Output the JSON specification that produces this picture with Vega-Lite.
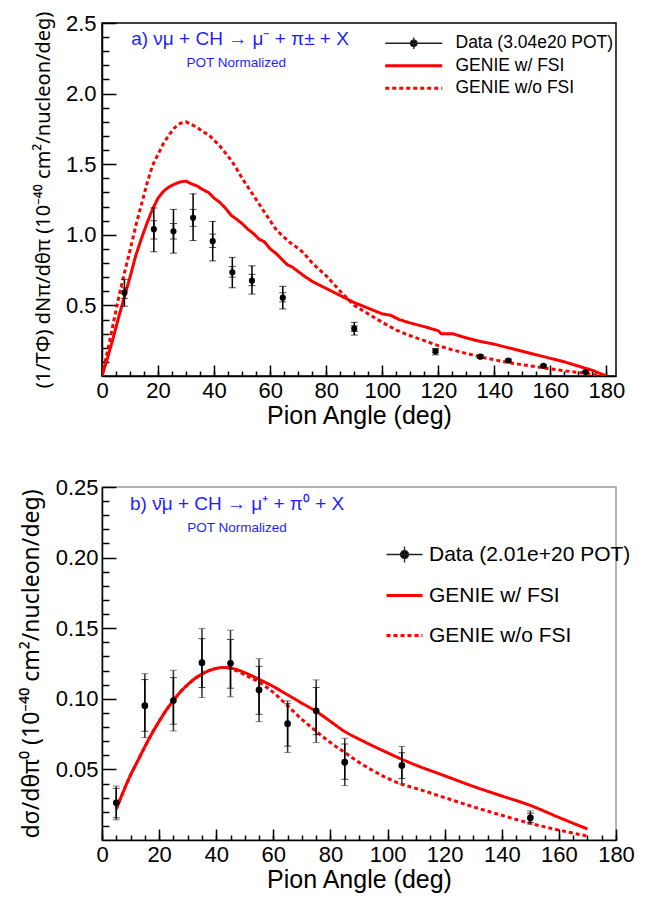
{
  "$schema": "https://vega.github.io/schema/vega-lite/v6.json",
  "background": "white",
  "padding": {"left": 19, "top": 10, "right": 5, "bottom": 5},
  "config": {
    "font": "Liberation Sans",
    "view": {"stroke": "black", "strokeWidth": 1.5},
    "axis": {
      "labelFont": "Liberation Sans", "titleFont": "Liberation Sans",
      "labelColor": "black", "titleColor": "black", "titleFontWeight": "normal",
      "domainColor": "black", "tickColor": "black", "domainWidth": 1.5, "tickWidth": 1.5,
      "grid": false, "labelFlush": false, "labelOverlap": false
    },
    "legend": {"labelFont": "Liberation Sans", "labelColor": "black", "labelLimit": 400}
  },
  "spacing": 46,
  "resolve": {
    "scale": {"x": "independent", "y": "independent", "color": "independent", "strokeDash": "independent"},
    "legend": {"color": "independent", "strokeDash": "independent"}
  },
  "datasets": {
    "curvesA": [
      {"series": "GENIE w/ FSI", "angle": 0, "value": 0.0},
      {"series": "GENIE w/ FSI", "angle": 2, "value": 0.13},
      {"series": "GENIE w/ FSI", "angle": 4, "value": 0.27},
      {"series": "GENIE w/ FSI", "angle": 6, "value": 0.42},
      {"series": "GENIE w/ FSI", "angle": 8, "value": 0.56},
      {"series": "GENIE w/ FSI", "angle": 10, "value": 0.70},
      {"series": "GENIE w/ FSI", "angle": 12, "value": 0.85},
      {"series": "GENIE w/ FSI", "angle": 14, "value": 0.97},
      {"series": "GENIE w/ FSI", "angle": 16, "value": 1.08},
      {"series": "GENIE w/ FSI", "angle": 18, "value": 1.18},
      {"series": "GENIE w/ FSI", "angle": 20, "value": 1.26},
      {"series": "GENIE w/ FSI", "angle": 22, "value": 1.31},
      {"series": "GENIE w/ FSI", "angle": 24, "value": 1.34},
      {"series": "GENIE w/ FSI", "angle": 26, "value": 1.36},
      {"series": "GENIE w/ FSI", "angle": 28, "value": 1.375},
      {"series": "GENIE w/ FSI", "angle": 30, "value": 1.38},
      {"series": "GENIE w/ FSI", "angle": 32, "value": 1.36},
      {"series": "GENIE w/ FSI", "angle": 34, "value": 1.345},
      {"series": "GENIE w/ FSI", "angle": 36, "value": 1.32},
      {"series": "GENIE w/ FSI", "angle": 38, "value": 1.30},
      {"series": "GENIE w/ FSI", "angle": 40, "value": 1.26},
      {"series": "GENIE w/ FSI", "angle": 42, "value": 1.23},
      {"series": "GENIE w/ FSI", "angle": 44, "value": 1.19},
      {"series": "GENIE w/ FSI", "angle": 46, "value": 1.14},
      {"series": "GENIE w/ FSI", "angle": 48, "value": 1.11},
      {"series": "GENIE w/ FSI", "angle": 50, "value": 1.08},
      {"series": "GENIE w/ FSI", "angle": 52, "value": 1.04},
      {"series": "GENIE w/ FSI", "angle": 54, "value": 1.01},
      {"series": "GENIE w/ FSI", "angle": 56, "value": 0.97},
      {"series": "GENIE w/ FSI", "angle": 58, "value": 0.95},
      {"series": "GENIE w/ FSI", "angle": 60, "value": 0.90},
      {"series": "GENIE w/ FSI", "angle": 62, "value": 0.87},
      {"series": "GENIE w/ FSI", "angle": 64, "value": 0.83},
      {"series": "GENIE w/ FSI", "angle": 66, "value": 0.79},
      {"series": "GENIE w/ FSI", "angle": 68, "value": 0.77},
      {"series": "GENIE w/ FSI", "angle": 70, "value": 0.74},
      {"series": "GENIE w/ FSI", "angle": 72, "value": 0.71},
      {"series": "GENIE w/ FSI", "angle": 75, "value": 0.67},
      {"series": "GENIE w/ FSI", "angle": 80, "value": 0.62},
      {"series": "GENIE w/ FSI", "angle": 85, "value": 0.57},
      {"series": "GENIE w/ FSI", "angle": 90, "value": 0.52},
      {"series": "GENIE w/ FSI", "angle": 95, "value": 0.48},
      {"series": "GENIE w/ FSI", "angle": 100, "value": 0.44},
      {"series": "GENIE w/ FSI", "angle": 103, "value": 0.43},
      {"series": "GENIE w/ FSI", "angle": 106, "value": 0.40},
      {"series": "GENIE w/ FSI", "angle": 110, "value": 0.375},
      {"series": "GENIE w/ FSI", "angle": 115, "value": 0.35},
      {"series": "GENIE w/ FSI", "angle": 120, "value": 0.32},
      {"series": "GENIE w/ FSI", "angle": 121, "value": 0.30},
      {"series": "GENIE w/ FSI", "angle": 125, "value": 0.30},
      {"series": "GENIE w/ FSI", "angle": 130, "value": 0.27},
      {"series": "GENIE w/ FSI", "angle": 135, "value": 0.245},
      {"series": "GENIE w/ FSI", "angle": 140, "value": 0.225},
      {"series": "GENIE w/ FSI", "angle": 145, "value": 0.20},
      {"series": "GENIE w/ FSI", "angle": 150, "value": 0.175},
      {"series": "GENIE w/ FSI", "angle": 155, "value": 0.15},
      {"series": "GENIE w/ FSI", "angle": 160, "value": 0.125},
      {"series": "GENIE w/ FSI", "angle": 165, "value": 0.10},
      {"series": "GENIE w/ FSI", "angle": 170, "value": 0.07},
      {"series": "GENIE w/ FSI", "angle": 175, "value": 0.04},
      {"series": "GENIE w/ FSI", "angle": 180, "value": 0.0},
      {"series": "GENIE w/o FSI", "angle": 0, "value": 0.0},
      {"series": "GENIE w/o FSI", "angle": 2, "value": 0.18},
      {"series": "GENIE w/o FSI", "angle": 4, "value": 0.37},
      {"series": "GENIE w/o FSI", "angle": 6, "value": 0.56},
      {"series": "GENIE w/o FSI", "angle": 8, "value": 0.73},
      {"series": "GENIE w/o FSI", "angle": 10, "value": 0.89},
      {"series": "GENIE w/o FSI", "angle": 12, "value": 1.06},
      {"series": "GENIE w/o FSI", "angle": 14, "value": 1.21},
      {"series": "GENIE w/o FSI", "angle": 16, "value": 1.36},
      {"series": "GENIE w/o FSI", "angle": 18, "value": 1.49},
      {"series": "GENIE w/o FSI", "angle": 20, "value": 1.57},
      {"series": "GENIE w/o FSI", "angle": 22, "value": 1.65},
      {"series": "GENIE w/o FSI", "angle": 24, "value": 1.71},
      {"series": "GENIE w/o FSI", "angle": 26, "value": 1.76},
      {"series": "GENIE w/o FSI", "angle": 28, "value": 1.79},
      {"series": "GENIE w/o FSI", "angle": 30, "value": 1.80},
      {"series": "GENIE w/o FSI", "angle": 32, "value": 1.78},
      {"series": "GENIE w/o FSI", "angle": 34, "value": 1.76},
      {"series": "GENIE w/o FSI", "angle": 36, "value": 1.73},
      {"series": "GENIE w/o FSI", "angle": 38, "value": 1.71},
      {"series": "GENIE w/o FSI", "angle": 40, "value": 1.67},
      {"series": "GENIE w/o FSI", "angle": 42, "value": 1.63},
      {"series": "GENIE w/o FSI", "angle": 44, "value": 1.58},
      {"series": "GENIE w/o FSI", "angle": 46, "value": 1.53},
      {"series": "GENIE w/o FSI", "angle": 48, "value": 1.47},
      {"series": "GENIE w/o FSI", "angle": 50, "value": 1.40},
      {"series": "GENIE w/o FSI", "angle": 52, "value": 1.34},
      {"series": "GENIE w/o FSI", "angle": 54, "value": 1.28},
      {"series": "GENIE w/o FSI", "angle": 56, "value": 1.22},
      {"series": "GENIE w/o FSI", "angle": 58, "value": 1.16},
      {"series": "GENIE w/o FSI", "angle": 60, "value": 1.10},
      {"series": "GENIE w/o FSI", "angle": 62, "value": 1.04},
      {"series": "GENIE w/o FSI", "angle": 64, "value": 1.00},
      {"series": "GENIE w/o FSI", "angle": 66, "value": 0.965},
      {"series": "GENIE w/o FSI", "angle": 68, "value": 0.93},
      {"series": "GENIE w/o FSI", "angle": 70, "value": 0.905},
      {"series": "GENIE w/o FSI", "angle": 72, "value": 0.87},
      {"series": "GENIE w/o FSI", "angle": 75, "value": 0.80},
      {"series": "GENIE w/o FSI", "angle": 80, "value": 0.71},
      {"series": "GENIE w/o FSI", "angle": 85, "value": 0.60},
      {"series": "GENIE w/o FSI", "angle": 90, "value": 0.50},
      {"series": "GENIE w/o FSI", "angle": 95, "value": 0.44},
      {"series": "GENIE w/o FSI", "angle": 100, "value": 0.38},
      {"series": "GENIE w/o FSI", "angle": 105, "value": 0.325},
      {"series": "GENIE w/o FSI", "angle": 110, "value": 0.285},
      {"series": "GENIE w/o FSI", "angle": 115, "value": 0.25},
      {"series": "GENIE w/o FSI", "angle": 120, "value": 0.215},
      {"series": "GENIE w/o FSI", "angle": 125, "value": 0.185},
      {"series": "GENIE w/o FSI", "angle": 130, "value": 0.16},
      {"series": "GENIE w/o FSI", "angle": 135, "value": 0.135},
      {"series": "GENIE w/o FSI", "angle": 140, "value": 0.115},
      {"series": "GENIE w/o FSI", "angle": 145, "value": 0.095},
      {"series": "GENIE w/o FSI", "angle": 150, "value": 0.08},
      {"series": "GENIE w/o FSI", "angle": 155, "value": 0.065},
      {"series": "GENIE w/o FSI", "angle": 160, "value": 0.05},
      {"series": "GENIE w/o FSI", "angle": 165, "value": 0.037},
      {"series": "GENIE w/o FSI", "angle": 170, "value": 0.025},
      {"series": "GENIE w/o FSI", "angle": 175, "value": 0.012},
      {"series": "GENIE w/o FSI", "angle": 180, "value": 0.0}
    ],
    "dataA": [
      {"angle": 8, "value": 0.59, "lo": 0.494, "hi": 0.685, "slo": 0.55, "shi": 0.625},
      {"angle": 18.5, "value": 1.04, "lo": 0.88, "hi": 1.19, "slo": 0.97, "shi": 1.10},
      {"angle": 25.5, "value": 1.025, "lo": 0.87, "hi": 1.18, "slo": 0.97, "shi": 1.08},
      {"angle": 32.5, "value": 1.12, "lo": 0.96, "hi": 1.29, "slo": 1.06, "shi": 1.18},
      {"angle": 39.5, "value": 0.955, "lo": 0.815, "hi": 1.095, "slo": 0.91, "shi": 1.005},
      {"angle": 46.5, "value": 0.735, "lo": 0.625, "hi": 0.84, "slo": 0.70, "shi": 0.775},
      {"angle": 53.5, "value": 0.675, "lo": 0.58, "hi": 0.78, "slo": 0.64, "shi": 0.72},
      {"angle": 64.5, "value": 0.555, "lo": 0.475, "hi": 0.635, "slo": 0.525, "shi": 0.59},
      {"angle": 90, "value": 0.335, "lo": 0.29, "hi": 0.38, "slo": 0.315, "shi": 0.355},
      {"angle": 119, "value": 0.175, "lo": 0.15, "hi": 0.195, "slo": 0.165, "shi": 0.185},
      {"angle": 135, "value": 0.137, "lo": 0.125, "hi": 0.15, "slo": 0.13, "shi": 0.145},
      {"angle": 145, "value": 0.11, "lo": 0.10, "hi": 0.12, "slo": 0.105, "shi": 0.115},
      {"angle": 157.5, "value": 0.072, "lo": 0.064, "hi": 0.08, "slo": 0.068, "shi": 0.076},
      {"angle": 172.5, "value": 0.028, "lo": 0.022, "hi": 0.034, "slo": 0.025, "shi": 0.031}
    ],
    "curvesB": [
      {"series": "GENIE w/ FSI", "angle": 5, "value": 0.022},
      {"series": "GENIE w/ FSI", "angle": 7, "value": 0.032},
      {"series": "GENIE w/ FSI", "angle": 10, "value": 0.046},
      {"series": "GENIE w/ FSI", "angle": 12.5, "value": 0.056},
      {"series": "GENIE w/ FSI", "angle": 15, "value": 0.066},
      {"series": "GENIE w/ FSI", "angle": 17.5, "value": 0.0755},
      {"series": "GENIE w/ FSI", "angle": 20, "value": 0.084},
      {"series": "GENIE w/ FSI", "angle": 22.5, "value": 0.092},
      {"series": "GENIE w/ FSI", "angle": 25, "value": 0.0988},
      {"series": "GENIE w/ FSI", "angle": 27.5, "value": 0.105},
      {"series": "GENIE w/ FSI", "angle": 30, "value": 0.110},
      {"series": "GENIE w/ FSI", "angle": 32.5, "value": 0.1143},
      {"series": "GENIE w/ FSI", "angle": 35, "value": 0.1175},
      {"series": "GENIE w/ FSI", "angle": 37.5, "value": 0.120},
      {"series": "GENIE w/ FSI", "angle": 40, "value": 0.1215},
      {"series": "GENIE w/ FSI", "angle": 42.5, "value": 0.1222},
      {"series": "GENIE w/ FSI", "angle": 45, "value": 0.1218},
      {"series": "GENIE w/ FSI", "angle": 47.5, "value": 0.1205},
      {"series": "GENIE w/ FSI", "angle": 50, "value": 0.1185},
      {"series": "GENIE w/ FSI", "angle": 55, "value": 0.1138},
      {"series": "GENIE w/ FSI", "angle": 60, "value": 0.1087},
      {"series": "GENIE w/ FSI", "angle": 65, "value": 0.1028},
      {"series": "GENIE w/ FSI", "angle": 70, "value": 0.0969},
      {"series": "GENIE w/ FSI", "angle": 75, "value": 0.0911},
      {"series": "GENIE w/ FSI", "angle": 80, "value": 0.084},
      {"series": "GENIE w/ FSI", "angle": 85, "value": 0.0768},
      {"series": "GENIE w/ FSI", "angle": 90, "value": 0.0715},
      {"series": "GENIE w/ FSI", "angle": 95, "value": 0.0665},
      {"series": "GENIE w/ FSI", "angle": 100, "value": 0.0618},
      {"series": "GENIE w/ FSI", "angle": 105, "value": 0.0572},
      {"series": "GENIE w/ FSI", "angle": 110, "value": 0.053},
      {"series": "GENIE w/ FSI", "angle": 120, "value": 0.0455},
      {"series": "GENIE w/ FSI", "angle": 130, "value": 0.038},
      {"series": "GENIE w/ FSI", "angle": 140, "value": 0.0312},
      {"series": "GENIE w/ FSI", "angle": 150, "value": 0.0245},
      {"series": "GENIE w/ FSI", "angle": 160, "value": 0.016},
      {"series": "GENIE w/ FSI", "angle": 170, "value": 0.0078},
      {"series": "GENIE w/o FSI", "angle": 5, "value": 0.022},
      {"series": "GENIE w/o FSI", "angle": 7, "value": 0.032},
      {"series": "GENIE w/o FSI", "angle": 10, "value": 0.046},
      {"series": "GENIE w/o FSI", "angle": 12.5, "value": 0.056},
      {"series": "GENIE w/o FSI", "angle": 15, "value": 0.066},
      {"series": "GENIE w/o FSI", "angle": 17.5, "value": 0.0755},
      {"series": "GENIE w/o FSI", "angle": 20, "value": 0.084},
      {"series": "GENIE w/o FSI", "angle": 22.5, "value": 0.092},
      {"series": "GENIE w/o FSI", "angle": 25, "value": 0.0988},
      {"series": "GENIE w/o FSI", "angle": 27.5, "value": 0.105},
      {"series": "GENIE w/o FSI", "angle": 30, "value": 0.110},
      {"series": "GENIE w/o FSI", "angle": 32.5, "value": 0.1143},
      {"series": "GENIE w/o FSI", "angle": 35, "value": 0.1175},
      {"series": "GENIE w/o FSI", "angle": 37.5, "value": 0.120},
      {"series": "GENIE w/o FSI", "angle": 40, "value": 0.1215},
      {"series": "GENIE w/o FSI", "angle": 42.5, "value": 0.1222},
      {"series": "GENIE w/o FSI", "angle": 45, "value": 0.1215},
      {"series": "GENIE w/o FSI", "angle": 47.5, "value": 0.1195},
      {"series": "GENIE w/o FSI", "angle": 50, "value": 0.117},
      {"series": "GENIE w/o FSI", "angle": 55, "value": 0.1118},
      {"series": "GENIE w/o FSI", "angle": 60, "value": 0.1045},
      {"series": "GENIE w/o FSI", "angle": 65, "value": 0.095},
      {"series": "GENIE w/o FSI", "angle": 70, "value": 0.0855},
      {"series": "GENIE w/o FSI", "angle": 75, "value": 0.077},
      {"series": "GENIE w/o FSI", "angle": 80, "value": 0.069},
      {"series": "GENIE w/o FSI", "angle": 85, "value": 0.062},
      {"series": "GENIE w/o FSI", "angle": 90, "value": 0.055},
      {"series": "GENIE w/o FSI", "angle": 95, "value": 0.049},
      {"series": "GENIE w/o FSI", "angle": 100, "value": 0.0437},
      {"series": "GENIE w/o FSI", "angle": 105, "value": 0.0395},
      {"series": "GENIE w/o FSI", "angle": 110, "value": 0.0365},
      {"series": "GENIE w/o FSI", "angle": 120, "value": 0.030},
      {"series": "GENIE w/o FSI", "angle": 130, "value": 0.0235},
      {"series": "GENIE w/o FSI", "angle": 140, "value": 0.0175},
      {"series": "GENIE w/o FSI", "angle": 150, "value": 0.0118},
      {"series": "GENIE w/o FSI", "angle": 160, "value": 0.007},
      {"series": "GENIE w/o FSI", "angle": 170, "value": 0.0028}
    ],
    "dataB": [
      {"angle": 5, "value": 0.0263, "lo": 0.0143, "hi": 0.0382, "slo": 0.0157, "shi": 0.0366},
      {"angle": 15, "value": 0.0951, "lo": 0.0725, "hi": 0.1178, "slo": 0.077, "shi": 0.1136},
      {"angle": 25, "value": 0.0988, "lo": 0.0772, "hi": 0.1202, "slo": 0.082, "shi": 0.115},
      {"angle": 35, "value": 0.1256, "lo": 0.1009, "hi": 0.1498, "slo": 0.108, "shi": 0.1426},
      {"angle": 45, "value": 0.1251, "lo": 0.1014, "hi": 0.1486, "slo": 0.1075, "shi": 0.142},
      {"angle": 55, "value": 0.1063, "lo": 0.0838, "hi": 0.1284, "slo": 0.089, "shi": 0.123},
      {"angle": 65, "value": 0.0824, "lo": 0.062, "hi": 0.0985, "slo": 0.0665, "shi": 0.0965},
      {"angle": 75, "value": 0.0915, "lo": 0.069, "hi": 0.1134, "slo": 0.0746, "shi": 0.108},
      {"angle": 85, "value": 0.0551, "lo": 0.0385, "hi": 0.072, "slo": 0.043, "shi": 0.068},
      {"angle": 105, "value": 0.0528, "lo": 0.0397, "hi": 0.0662, "slo": 0.0435, "shi": 0.0618},
      {"angle": 150, "value": 0.0157, "lo": 0.0113, "hi": 0.0206, "slo": 0.0125, "shi": 0.019}
    ]
  },
  "vconcat": [
    {
      "width": 514, "height": 353,
      "view": {"stroke": "black", "strokeWidth": 1.5},
      "resolve": {"axis": {"x": "independent", "y": "independent"}},
      "layer": [
        {
          "data": {"name": "curvesA"},
          "mark": {"type": "line", "strokeWidth": 3, "clip": true},
          "encoding": {
            "x": {"field": "angle", "type": "quantitative", "scale": {"domain": [0, 183.4], "nice": false, "zero": false},
              "axis": {"orient": "bottom", "values": [0, 20, 40, 60, 80, 100, 120, 140, 160, 180], "format": "d",
                "title": "Pion Angle (deg)", "titleFontSize": 25, "titlePadding": 2,
                "labelFontSize": 22, "tickSize": -11, "labelPadding": 15}},
            "y": {"field": "value", "type": "quantitative", "scale": {"domain": [0, 2.5], "nice": false},
              "axis": {"orient": "left", "values": [0.5, 1, 1.5, 2, 2.5], "format": ".1f",
                "title": "(1/TΦ) dNπ/dθπ (10⁻⁴⁰ cm²/nucleon/deg)", "titleFont": "Noto Sans", "titleFontSize": 20, "titlePadding": 12,
                "labelFontSize": 22, "tickSize": -14, "labelPadding": 20}},
            "color": {"field": "series", "type": "nominal",
              "scale": {"domain": ["Data (3.04e20 POT)", "GENIE w/ FSI", "GENIE w/o FSI"], "range": ["#222222", "#ff0000", "#ff0000"]},
              "legend": {"orient": "none", "legendX": 303, "legendY": 11.5, "title": null, "padding": 0,
                "labelFontSize": 17.5, "symbolSize": 361, "labelOffset": 33, "rowPadding": 3.5, "symbolOpacity": 1,
                "symbolType": {"expr": "datum.value === 'Data (3.04e20 POT)' ? 'M-3,0H3M0,-0.6V0.6M-0.35,0A0.35,0.35,0,1,1,0.35,0A0.35,0.35,0,1,1,-0.35,0Z' : 'M-3,0H3'"},
                "symbolFillColor": {"expr": "datum.value === 'Data (3.04e20 POT)' ? 'black' : 'transparent'"},
                "symbolStrokeWidth": {"expr": "datum.value === 'Data (3.04e20 POT)' ? 1.3 : 3"},
                "symbolDash": {"expr": "datum.value === 'GENIE w/o FSI' ? [4,3] : [1,0]"}}},
            "strokeDash": {"field": "series", "type": "nominal",
              "scale": {"domain": ["Data (3.04e20 POT)", "GENIE w/ FSI", "GENIE w/o FSI"], "range": [[1, 0], [1, 0], [4, 3]]},
              "legend": null}
          }
        },
        {
          "data": {"name": "dataA"},
          "mark": {"type": "errorbar", "ticks": {"size": 7, "color": "black", "strokeWidth": 1.5}, "rule": {"color": "black", "strokeWidth": 1.5}},
          "encoding": {
            "x": {"field": "angle", "type": "quantitative", "scale": {"domain": [0, 183.4], "nice": false, "zero": false}, "axis": null},
            "y": {"field": "lo", "type": "quantitative", "scale": {"domain": [0, 2.5], "nice": false}, "axis": null},
            "y2": {"field": "hi"}
          }
        },
        {
          "data": {"name": "dataA"},
          "mark": {"type": "errorbar", "ticks": {"size": 7, "color": "black", "strokeWidth": 1.5}, "rule": {"color": "black", "strokeWidth": 1.5}},
          "encoding": {
            "x": {"field": "angle", "type": "quantitative", "scale": {"domain": [0, 183.4], "nice": false, "zero": false}, "axis": null},
            "y": {"field": "slo", "type": "quantitative", "scale": {"domain": [0, 2.5], "nice": false}, "axis": null},
            "y2": {"field": "shi"}
          }
        },
        {
          "data": {"name": "dataA"},
          "mark": {"type": "circle", "size": 38, "color": "black", "opacity": 1},
          "encoding": {
            "x": {"field": "angle", "type": "quantitative", "scale": {"domain": [0, 183.4], "nice": false, "zero": false},
              "axis": {"orient": "bottom", "labels": false, "domain": false, "title": null, "tickSize": -5,
                "values": [0, 5, 10, 15, 20, 25, 30, 35, 40, 45, 50, 55, 60, 65, 70, 75, 80, 85, 90, 95, 100, 105, 110, 115, 120, 125, 130, 135, 140, 145, 150, 155, 160, 165, 170, 175, 180]}},
            "y": {"field": "value", "type": "quantitative", "scale": {"domain": [0, 2.5], "nice": false},
              "axis": {"orient": "left", "labels": false, "domain": false, "title": null, "tickSize": -7,
                "values": [0.1, 0.2, 0.3, 0.4, 0.6, 0.7, 0.8, 0.9, 1.1, 1.2, 1.3, 1.4, 1.6, 1.7, 1.8, 1.9, 2.1, 2.2, 2.3, 2.4]}}
          }
        },
        {
          "data": {"values": [{}]},
          "mark": {"type": "text", "color": "#1f1fff", "fontSize": 19, "align": "left", "baseline": "middle", "font": "Liberation Sans"},
          "encoding": {
            "x": {"datum": 10.4, "type": "quantitative", "scale": {"domain": [0, 183.4], "nice": false, "zero": false}, "axis": null},
            "y": {"datum": 2.385, "type": "quantitative", "scale": {"domain": [0, 2.5], "nice": false}, "axis": null},
            "text": {"value": "a)  νμ + CH → μ⁻ + π± + X"}
          }
        },
        {
          "data": {"values": [{}]},
          "mark": {"type": "text", "color": "#1f1fff", "fontSize": 13.5, "align": "center", "baseline": "middle", "font": "Liberation Sans"},
          "encoding": {
            "x": {"datum": 47.9, "type": "quantitative", "scale": {"domain": [0, 183.4], "nice": false, "zero": false}, "axis": null},
            "y": {"datum": 2.217, "type": "quantitative", "scale": {"domain": [0, 2.5], "nice": false}, "axis": null},
            "text": {"value": "POT Normalized"}
          }
        }
      ]
    },
    {
      "width": 514, "height": 353,
      "view": {"stroke": "#9a9a9a", "strokeWidth": 1.5},
      "resolve": {"axis": {"x": "independent", "y": "independent"}},
      "layer": [
        {
          "data": {"name": "curvesB"},
          "mark": {"type": "line", "strokeWidth": 3, "interpolate": "monotone", "clip": true},
          "encoding": {
            "x": {"field": "angle", "type": "quantitative", "scale": {"domain": [0, 180], "nice": false, "zero": false},
              "axis": {"orient": "bottom", "values": [0, 20, 40, 60, 80, 100, 120, 140, 160, 180], "format": "d",
                "title": "Pion Angle (deg)", "titleFontSize": 25, "titlePadding": 2,
                "labelFontSize": 22, "tickSize": -11, "labelPadding": 15}},
            "y": {"field": "value", "type": "quantitative", "scale": {"domain": [0, 0.25], "nice": false},
              "axis": {"orient": "left", "values": [0.05, 0.1, 0.15, 0.2, 0.25], "format": ".2f",
                "title": "dσ/dθπ⁰ (10⁻⁴⁰ cm²/nucleon/deg)", "titleFont": "Noto Sans", "titleFontSize": 23, "titlePadding": 12,
                "labelFontSize": 22, "tickSize": -14, "labelPadding": 18}},
            "color": {"field": "series", "type": "nominal",
              "scale": {"domain": ["Data (2.01e+20 POT)", "GENIE w/ FSI", "GENIE w/o FSI"], "range": ["#222222", "#ff0000", "#ff0000"]},
              "legend": {"orient": "none", "legendX": 292, "legendY": 57, "title": null, "padding": 0,
                "labelFontSize": 21, "symbolSize": 324, "labelOffset": 14, "rowPadding": 18, "symbolOpacity": 1,
                "symbolType": {"expr": "datum.value === 'Data (2.01e+20 POT)' ? 'M-2,0H2M0,-0.9V0.9M-0.44,0A0.44,0.44,0,1,1,0.44,0A0.44,0.44,0,1,1,-0.44,0Z' : 'M-2,0H2'"},
                "symbolFillColor": {"expr": "datum.value === 'Data (2.01e+20 POT)' ? 'black' : 'transparent'"},
                "symbolStrokeWidth": {"expr": "datum.value === 'Data (2.01e+20 POT)' ? 1.3 : 3"},
                "symbolDash": {"expr": "datum.value === 'GENIE w/o FSI' ? [4,3] : [1,0]"}}},
            "strokeDash": {"field": "series", "type": "nominal",
              "scale": {"domain": ["Data (2.01e+20 POT)", "GENIE w/ FSI", "GENIE w/o FSI"], "range": [[1, 0], [1, 0], [4, 3]]},
              "legend": null}
          }
        },
        {
          "data": {"name": "dataB"},
          "mark": {"type": "errorbar", "ticks": {"size": 7, "color": "#555555", "strokeWidth": 1.5}, "rule": {"color": "#333333", "strokeWidth": 1.5}},
          "encoding": {
            "x": {"field": "angle", "type": "quantitative", "scale": {"domain": [0, 180], "nice": false, "zero": false}, "axis": null},
            "y": {"field": "lo", "type": "quantitative", "scale": {"domain": [0, 0.25], "nice": false}, "axis": null},
            "y2": {"field": "hi"}
          }
        },
        {
          "data": {"name": "dataB"},
          "mark": {"type": "errorbar", "ticks": {"size": 7, "color": "black", "strokeWidth": 1.5}, "rule": {"color": "black", "strokeWidth": 1.5}},
          "encoding": {
            "x": {"field": "angle", "type": "quantitative", "scale": {"domain": [0, 180], "nice": false, "zero": false}, "axis": null},
            "y": {"field": "slo", "type": "quantitative", "scale": {"domain": [0, 0.25], "nice": false}, "axis": null},
            "y2": {"field": "shi"}
          }
        },
        {
          "data": {"name": "dataB"},
          "mark": {"type": "circle", "size": 45, "color": "black", "opacity": 1},
          "encoding": {
            "x": {"field": "angle", "type": "quantitative", "scale": {"domain": [0, 180], "nice": false, "zero": false},
              "axis": {"orient": "bottom", "labels": false, "domain": false, "title": null, "tickSize": -5,
                "values": [0, 5, 10, 15, 20, 25, 30, 35, 40, 45, 50, 55, 60, 65, 70, 75, 80, 85, 90, 95, 100, 105, 110, 115, 120, 125, 130, 135, 140, 145, 150, 155, 160, 165, 170, 175, 180]}},
            "y": {"field": "value", "type": "quantitative", "scale": {"domain": [0, 0.25], "nice": false},
              "axis": {"orient": "left", "labels": false, "domain": false, "title": null, "tickSize": -7,
                "values": [0.01, 0.02, 0.03, 0.04, 0.06, 0.07, 0.08, 0.09, 0.11, 0.12, 0.13, 0.14, 0.16, 0.17, 0.18, 0.19, 0.21, 0.22, 0.23, 0.24]}}
          }
        },
        {
          "data": {"values": [{}]},
          "mark": {"type": "text", "color": "#1f1fff", "fontSize": 19, "align": "left", "baseline": "middle", "font": "Liberation Sans"},
          "encoding": {
            "x": {"datum": 9.8, "type": "quantitative", "scale": {"domain": [0, 180], "nice": false, "zero": false}, "axis": null},
            "y": {"datum": 0.238, "type": "quantitative", "scale": {"domain": [0, 0.25], "nice": false}, "axis": null},
            "text": {"value": "b)  ν̄μ + CH → μ⁺ + π⁰ + X"}
          }
        },
        {
          "data": {"values": [{}]},
          "mark": {"type": "text", "color": "#1f1fff", "fontSize": 13.5, "align": "center", "baseline": "middle", "font": "Liberation Sans"},
          "encoding": {
            "x": {"datum": 47.3, "type": "quantitative", "scale": {"domain": [0, 180], "nice": false, "zero": false}, "axis": null},
            "y": {"datum": 0.2211, "type": "quantitative", "scale": {"domain": [0, 0.25], "nice": false}, "axis": null},
            "text": {"value": "POT Normalized"}
          }
        }
      ]
    }
  ]
}
